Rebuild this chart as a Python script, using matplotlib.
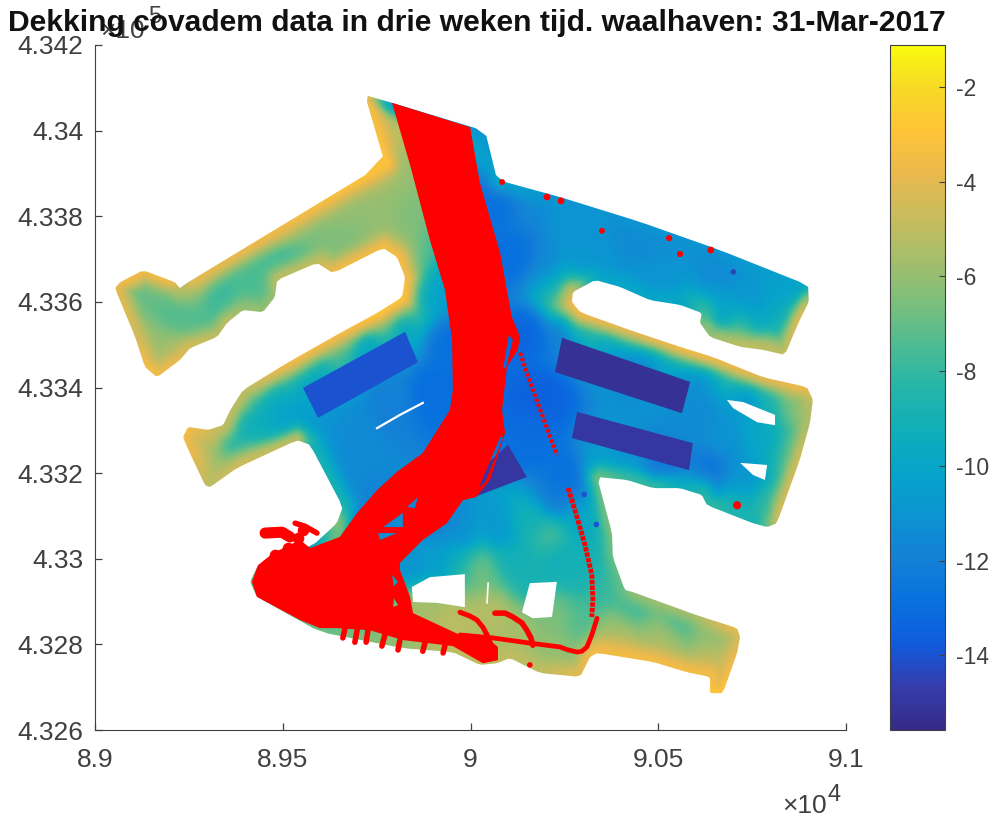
import numpy as np
import matplotlib
matplotlib.use("Agg")
import matplotlib.pyplot as plt
from matplotlib.collections import PolyCollection
from matplotlib.colors import LinearSegmentedColormap, Normalize
from matplotlib.path import Path
from matplotlib.patches import PathPatch

plt.rcParams["font.family"] = ["Liberation Sans", "DejaVu Sans"]

title = "Dekking covadem data in drie weken tijd. waalhaven: 31-Mar-2017"

x_ticks = [89000, 89500, 90000, 90500, 91000]
x_labels = ["8.9", "8.95", "9", "9.05", "9.1"]
y_ticks = [432600, 432800, 433000, 433200, 433400, 433600, 433800, 434000, 434200]
y_labels = ["4.326", "4.328", "4.33", "4.332", "4.334", "4.336", "4.338", "4.34", "4.342"]
cb_ticks = [-14, -12, -10, -8, -6, -4, -2]
cb_labels = ["-14", "-12", "-10", "-8", "-6", "-4", "-2"]
depth_min = -15.58
depth_max = -1.11

# harbour edge, RD metres, with the depth
coast_x = [89719, 89791, 90039, 90071, 90238, 90451, 90664, 90899, 90901, 90877, 90837, 90779,
           90718, 90638, 90611, 90616, 90558, 90478, 90398, 90332, 90273, 90270, 90292, 90425,
           90558, 90646, 90779, 90896, 90912, 90904, 90877, 90816, 90790, 90752, 90630, 90616,
           90558, 90486, 90417, 90337, 90377, 90379, 90411, 90433, 90603, 90710, 90718, 90710,
           90672, 90638, 90638, 90576, 90486, 90337, 90318, 90292, 90185, 90105, 90071, 90025,
           89953, 89820, 89599, 89431, 89413, 89434, 89581, 89644, 89660, 89573, 89538, 89378,
           89306, 89293, 89261, 89234, 89248, 89301, 89341, 89360, 89394, 89511, 89652, 89751,
           89818, 89826, 89804, 89767, 89634, 89591, 89485, 89479, 89447, 89394, 89352, 89325,
           89253, 89226, 89165, 89133, 89107, 89053, 89067, 89128, 89213, 89226, 89248, 89772]
coast_y = [434083, 434065, 433999, 433885, 433845, 433787, 433721, 433639, 433600, 433558, 433476, 433488,
           433495, 433518, 433551, 433574, 433593, 433604, 433635, 433651, 433623, 433600, 433576, 433534,
           433495, 433471, 433424, 433401, 433371, 433317, 433231, 433083, 433074, 433083, 433125, 433149,
           433165, 433165, 433184, 433191, 433060, 433004, 432927, 432922, 432868, 432838, 432817, 432780,
           432686, 432686, 432724, 432735, 432759, 432780, 432770, 432724, 432733, 432768, 432756, 432752,
           432782, 432791, 432829, 432911, 432946, 432985, 433032, 433083, 433121, 433266, 433277, 433212,
           433167, 433172, 433231, 433284, 433308, 433301, 433312, 433347, 433394, 433457, 433527, 433574,
           433611, 433658, 433705, 433726, 433667, 433691, 433651, 433611, 433576, 433581, 433551, 433518,
           433492, 433464, 433424, 433448, 433518, 433632, 433646, 433674, 433646, 433632, 433646, 433924]
coast_depth = [-3.5, -11, -11, -10, -11, -11, -11, -10, -5, -4, -5, -5,
               -5, -6, -6.5, -8, -10, -10, -10, -10, -5, -3.5, -3.5, -4,
               -3.5, -3.5, -4, -3.5, -5, -5.5, -4.5, -4.5, -7, -9, -8, -8.5,
               -9.5, -8, -8, -7, -6.5, -7, -7, -6, -5.5, -3.5, -4.5, -4,
               -3, -3, -3.5, -3.5, -3.5, -3.5, -3.5, -4, -5, -5, -5, -5,
               -5, -6, -7, -7, -7, -7, -10, -6, -9, -9, -5, -4.5,
               -5, -5, -4, -3.5, -3.5, -4.5, -5, -5, -5, -3.5, -3.5, -3,
               -3, -3.5, -3.5, -3.5, -3.5, -5, -5, -6, -6, -6, -5, -5,
               -4.5, -4, -3.5, -3.5, -4.5, -4, -3.5, -3.5, -3.5, -6, -4, -3]

# depth soundings inside the harbour
inner_x = [89107, 89173, 89146, 89200, 89253, 89320, 89258, 89413, 89519, 89519, 89652, 89652,
           89759, 89772, 89799, 89812, 89839, 89865, 89897, 89533, 89666, 89772, 89844, 89860,
           89839, 89559, 89719, 89812, 89884, 89413, 89413, 89306, 89354, 89386, 89453, 89519,
           89599, 89666, 89706, 89679, 89786, 89892, 89932, 89607, 89999, 90052, 90087, 90118,
           90145, 90265, 90451, 90664, 90851, 90744, 90478, 90318, 90198, 90217, 90244, 90278,
           90238, 90158, 90425, 90425, 90585, 90585, 90718, 90731, 90851, 90877, 90798, 90624,
           90718, 90798, 90824, 90664, 90771, 90864, 90185, 90158, 90611, 90664, 90784, 90851,
           90718, 90638, 90611, 90704, 90798, 90505, 90411, 90345, 90252, 90225, 90071, 90158,
           90212, 90292, 90345, 90292, 90230, 90140, 90087, 90052, 90345, 90425, 90558, 90646,
           90292, 90230, 90379, 90513, 90646, 90379, 90204, 90113, 90052, 90017, 89839, 89911,
           89980, 89980, 89911, 89873, 89953, 89280, 89320, 89200]
inner_y = [433604, 433628, 433511, 433488, 433558, 433604, 433628, 433628, 433698, 433763, 433733, 433826,
           433903, 433803, 434001, 433908, 433803, 433721, 433651, 433441, 433504, 433553, 433593, 433663,
           433721, 433406, 433488, 433534, 433604, 433371, 433312, 433277, 433266, 433231, 433347, 433312,
           433277, 433160, 433114, 433277, 433371, 433394, 433511, 433067, 433721, 433990, 433838, 433698,
           433838, 433791, 433744, 433674, 433616, 433616, 433651, 433686, 433674, 433639, 433593, 433553,
           433534, 433534, 433499, 433469, 433459, 433422, 433417, 433382, 433382, 433359, 433371, 433534,
           433523, 433499, 433546, 433569, 433558, 433581, 433371, 433277, 433324, 433277, 433277, 433254,
           433184, 433207, 433167, 433125, 433114, 433189, 433207, 433219, 433189, 433137, 433060, 433083,
           433051, 433083, 433037, 432957, 433004, 432967, 432981, 432957, 432915, 432897, 432864, 432826,
           432864, 432857, 432833, 432803, 432770, 432798, 432787, 432810, 432887, 432981, 432990, 432990,
           432990, 433044, 433083, 432880, 432864, 433254, 433226, 433569]
inner_depth = [-7, -7, -6, -5.5, -7.5, -8, -6, -7.5, -8, -6, -6.5, -6,
               -5.5, -6, -5, -6, -6.5, -8, -11, -7, -7, -6, -6, -6,
               -5, -10.5, -10.5, -10.5, -11, -7, -9.5, -4.5, -9.5, -7, -10, -10.5,
               -11, -11.5, -12, -11.5, -12, -13, -13, -6, -13, -10, -13, -13,
               -11.5, -11, -11.5, -11.5, -10.5, -11, -11, -11, -12, -9, -5, -8,
               -13, -13.5, -8, -12.5, -8, -12, -8, -11.5, -6.5, -6, -9, -7.5,
               -7, -6, -9.5, -10.5, -10.5, -9, -13.5, -13, -11.5, -11, -10, -7.5,
               -11, -13, -11, -9, -8, -12.5, -11, -10.5, -13, -12.5, -11, -9,
               -7, -10, -9, -9, -9.5, -9, -9.5, -6.5, -8, -8, -8, -6.5,
               -7.5, -6.5, -6, -5.5, -5, -4.5, -6, -5.5, -5, -6, -11, -10.5,
               -9, -11.5, -12, -5.5, -5, -5, -5.5, -7.5]

# dredged basins
basin_x = [[89554, 89826, 89860, 89594], [90244, 90585, 90563, 90225],
           [90284, 90592, 90582, 90270], [90100, 90150, 90004, 90025]]
basin_y = [[433399, 433530, 433459, 433329], [433516, 433413, 433340, 433436],
           [433343, 433270, 433207, 433282], [433266, 433191, 433142, 433207]]
basin_depth = [-14, -15.2, -15, -15]

# dry areas inside the outline
dry_x = [[90683, 90726, 90811, 90811, 90763, 90699], [90718, 90790, 90784, 90752],
         [90158, 90230, 90217, 90166, 90137], [89844, 89892, 89985, 89985, 89911, 89847]]
dry_y = [[433371, 433366, 433336, 433312, 433319, 433352], [433224, 433219, 433184, 433196],
         [432943, 432946, 432864, 432861, 432875], [432934, 432957, 432964, 432887, 432897, 432899]]
sliver1_x = [89751, 89812, 89873]
sliver1_y = [433305, 433336, 433364]
sliver2_x = [90047, 90044]
sliver2_y = [432943, 432897]

# area swept by the tracks
swept_x = [89791, 89999, 90025, 90079, 90110, 90132, 90126, 90097, 90084, 90092, 90052, 90015, 89980,
           89937, 89873, 89812, 89812, 89839, 89847, 89972, 90044, 90073, 90073, 90033, 89953, 89820,
           89732, 89644, 89599, 89546, 89431, 89418, 89434, 89474, 89546, 89573, 89652, 89698, 89751,
           89804, 89873, 89945, 89953, 89951, 89932, 89892, 89839]
swept_y = [434065, 434008, 433878, 433714, 433565, 433518, 433488, 433448, 433347, 433294, 433184, 433144, 433137,
           433083, 433044, 432990, 432974, 432911, 432873, 432822, 432815, 432794, 432763, 432756, 432796, 432810,
           432833, 432838, 432838, 432857, 432911, 432946, 432985, 433013, 433044, 433025, 433051, 433107, 433160,
           433203, 433247, 433347, 433394, 433511, 433628, 433744, 433920]
gaps_x = [[89767, 89820, 89820], [89831, 89860, 89852], [89759, 89804, 89754],
          [90023, 90079, 90087, 90039], [90102, 90113, 90094, 90087],
          [89791, 89807, 89796], [89796, 89807, 89794]]
gaps_y = [[433074, 433107, 433074], [433121, 433144, 433118], [433044, 433060, 433060],
          [433167, 433284, 433284, 433179], [433523, 433511, 433445, 433445],
          [432962, 432946, 432936], [432908, 432892, 432887]]

# single tracks
dotted_x = [90132, 90166, 90193, 90230]
dotted_y = [433481, 433394, 433331, 433242]
south_x = [90260, 90278, 90305, 90323, 90326, 90323]
south_y = [433165, 433114, 433032, 432962, 432904, 432864]
back_x = [90337, 90323, 90310, 90297, 90284, 90260, 90238, 90158, 90060, 89972]
back_y = [432861, 432822, 432794, 432784, 432782, 432787, 432794, 432803, 432815, 432822]
arc1_x = [90065, 90092, 90113, 90137, 90150, 90161, 90166]
arc1_y = [432873, 432873, 432864, 432850, 432833, 432815, 432798]
arc2_x = [89972, 89999, 90017, 90033, 90047, 90057, 90065]
arc2_y = [432875, 432866, 432857, 432840, 432817, 432794, 432770]
stray1_x = [89533, 89559, 89591]
stray1_y = [433083, 433076, 433060]
stray2_x = [89453, 89498, 89519]
stray2_y = [433060, 433062, 433051]
stub_x = [[89666, 89660], [89698, 89692], [89727, 89722], [89772, 89764], [89812, 89807], [89879, 89873], [89932, 89927]]
stub_y = [[432838, 432815], [432833, 432805], [432833, 432805], [432822, 432796], [432810, 432787], [432805, 432784], [432798, 432780]]

# single position fixes
fix_x = [90084, 90204, 90241, 90350, 90529, 90558, 90640, 90710, 90158]
fix_y = [433880, 433845, 433836, 433766, 433749, 433712, 433721, 433125, 432752]
fix_size = [18, 24, 24, 18, 20, 20, 24, 34, 16]
blob_x = [89479, 89514, 89541, 89554]
blob_y = [433009, 433025, 433048, 433067]

# deep spots
spot_x = [90303, 90335, 90700]
spot_y = [433150, 433080, 433670]
spot_depth = [-14, -14, -14.5]

# parula, every few entries of the 64 step table
parula = [(0.2081, 0.1663, 0.5292), (0.2081, 0.2386, 0.6771), (0.0591, 0.3598, 0.8683),
          (0.0329, 0.4430, 0.8720), (0.0779, 0.5040, 0.8384), (0.0488, 0.5772, 0.8228),
          (0.0231, 0.6418, 0.7913), (0.0590, 0.6838, 0.7254), (0.1453, 0.7098, 0.6646),
          (0.3022, 0.7376, 0.5712), (0.4871, 0.7491, 0.4840), (0.6473, 0.7456, 0.4188),
          (0.7858, 0.7356, 0.3633), (0.9139, 0.7258, 0.3063), (0.9990, 0.7653, 0.2164),
          (0.9697, 0.8481, 0.1475), (0.9763, 0.9831, 0.0538)]
cmap = LinearSegmentedColormap.from_list("parula", parula, N=256)
norm = Normalize(depth_min, depth_max)


def ring(xs, ys, hole=False):
    pts = np.column_stack([xs, ys]).astype(float)
    area = np.sum(pts[:, 0] * np.roll(pts[:, 1], -1) - np.roll(pts[:, 0], -1) * pts[:, 1])
    if (area > 0) == hole:
        pts = pts[::-1]
    pts = np.vstack([pts, pts[0]])
    codes = [Path.MOVETO] + [Path.LINETO] * (len(pts) - 2) + [Path.CLOSEPOLY]
    return pts, codes


def round_corners(xs, ys, cut=0.1):
    pts = np.column_stack([xs, ys]).astype(float)
    nxt = np.roll(pts, -1, axis=0)
    out = np.empty((len(pts) * 2, 2))
    out[0::2] = pts + cut * (nxt - pts)
    out[1::2] = nxt - cut * (nxt - pts)
    return out[:, 0], out[:, 1]


# sample the depth along the edge so the shallow rim follows it
cx = np.array(coast_x + coast_x[:1], dtype=float)
cy = np.array(coast_y + coast_y[:1], dtype=float)
cd = np.array(coast_depth + coast_depth[:1], dtype=float)
run = np.concatenate([[0], np.cumsum(np.hypot(np.diff(cx), np.diff(cy)))])
along = np.arange(0, run[-1], 12.0)
rim_x = np.interp(along, run, cx)
rim_y = np.interp(along, run, cy)
rim_d = np.interp(along, run, cd)
sound_x = np.array(inner_x, dtype=float)
sound_y = np.array(inner_y, dtype=float)
sound_d = np.array(inner_depth, dtype=float)

# wide surface from the soundings, narrow rim from the edge, blended by distance to the edge
grid_x = np.arange(89020, 90940, 5.0)
grid_y = np.arange(432660, 434110, 4.5)
surface = np.empty((len(grid_y), len(grid_x)))
for i, gy in enumerate(grid_y):
    d2 = (grid_x[:, None] - sound_x) ** 2 + (gy - sound_y) ** 2
    w = (1 + d2 / 65.0 ** 2) ** -3
    deep = (w * sound_d).sum(axis=1) / w.sum(axis=1)
    d2 = (grid_x[:, None] - rim_x) ** 2 + (gy - rim_y) ** 2
    w = (1 + d2 / 25.0 ** 2) ** -4
    rim = (w * rim_d).sum(axis=1) / w.sum(axis=1)
    near = np.exp(-(d2.min(axis=1) / 30.0 ** 2))
    surface[i] = near * rim + (1 - near) * deep

fig = plt.figure(figsize=(9.97, 8.19), dpi=100)
ax = fig.add_axes([95 / 997, 89 / 819, 751 / 997, 685 / 819])
cax = fig.add_axes([890 / 997, 89 / 819, 55 / 997, 685 / 819])

mesh = ax.imshow(surface, origin="lower", extent=[grid_x[0], grid_x[-1], grid_y[0], grid_y[-1]],
                 aspect="auto", cmap=cmap, norm=norm, interpolation="bilinear")
edge_x, edge_y = round_corners(coast_x, coast_y)
pts, codes = ring(edge_x, edge_y)
mesh.set_clip_path(Path(pts, codes), ax.transData)

basins = [np.column_stack(p) for p in zip(basin_x, basin_y)]
ax.add_collection(PolyCollection(basins, array=np.array(basin_depth), cmap=cmap, norm=norm, edgecolors="none"))
ax.scatter(spot_x, spot_y, s=16, c=spot_depth, cmap=cmap, norm=norm, linewidths=0)

for xs, ys in zip(dry_x, dry_y):
    ax.fill(xs, ys, color="white", lw=0)
ax.plot(sliver1_x, sliver1_y, color="white", lw=1.6)
ax.plot(sliver2_x, sliver2_y, color="white", lw=1.2)

# red tracks on top
verts, codes = ring(swept_x, swept_y)
verts = [verts]
all_codes = list(codes)
for xs, ys in zip(gaps_x, gaps_y):
    p, c = ring(xs, ys, hole=True)
    verts.append(p)
    all_codes += c
ax.add_patch(PathPatch(Path(np.vstack(verts), all_codes), facecolor="red", edgecolor="none"))

ax.plot(dotted_x, dotted_y, color="red", lw=3, ls=(0, (0.8, 0.5)))
ax.plot(south_x, south_y, color="red", lw=3.5, ls=(0, (0.9, 0.25)))
ax.plot(back_x, back_y, color="red", lw=3.4, solid_capstyle="round")
ax.plot(arc1_x, arc1_y, color="red", lw=4, solid_capstyle="round")
ax.plot(arc2_x, arc2_y, color="red", lw=3.6, solid_capstyle="round")
ax.plot(stray1_x, stray1_y, color="red", lw=4, solid_capstyle="round")
ax.plot(stray2_x, stray2_y, color="red", lw=8, solid_capstyle="round")
for xs, ys in zip(stub_x, stub_y):
    ax.plot(xs, ys, color="red", lw=4, solid_capstyle="round")
ax.scatter(fix_x, fix_y, s=fix_size, color="red", linewidths=0, zorder=5)
ax.scatter(blob_x, blob_y, s=70, color="red", linewidths=0, zorder=5)

grey = "#404040"
ax.set_xlim(89000, 91000)
ax.set_ylim(432600, 434200)
ax.set_xticks(x_ticks)
ax.set_xticklabels(x_labels)
ax.set_yticks(y_ticks)
ax.set_yticklabels(y_labels)
ax.tick_params(direction="in", length=5, width=0.9, color=grey, labelcolor=grey, labelsize=19)
ax.tick_params(axis="x", pad=13)
ax.tick_params(axis="y", pad=8.5)
ax.spines["top"].set_visible(False)
ax.spines["right"].set_visible(False)
ax.spines["left"].set_color(grey)
ax.spines["bottom"].set_color(grey)

cb = fig.colorbar(mesh, cax=cax)
cb.set_ticks(cb_ticks)
cb.set_ticklabels(cb_labels)
cb.ax.tick_params(direction="in", length=4, width=0.8, color=grey, labelcolor=grey, labelsize=16.5, pad=8)
cb.outline.set_edgecolor(grey)
cb.outline.set_linewidth(0.8)

fig.text(477 / 997, 1 - 23 / 819, title, ha="center", va="center", fontsize=21.6, fontweight="bold", color="#111111", zorder=10)
fig.text(100 / 997, 1 - 31 / 819, "\u00d710", ha="left", va="center", fontsize=19, color=grey)
fig.text(148 / 997, 1 - 17 / 819, "5", ha="left", va="center", fontsize=17, color=grey)
fig.text(782 / 997, 1 - 806 / 819, "\u00d710", ha="left", va="center", fontsize=19, color=grey)
fig.text(827 / 997, 1 - 795 / 819, "4", ha="left", va="center", fontsize=17, color=grey)

fig.savefig("out.png", dpi=100)
